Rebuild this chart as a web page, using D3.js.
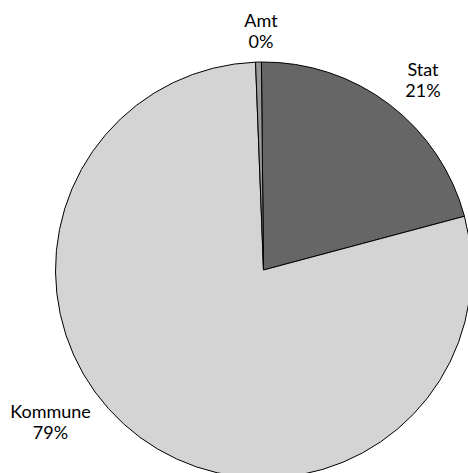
<!DOCTYPE html>
<html>
<head>
<meta charset="utf-8">
<script src="https://cdn.jsdelivr.net/npm/d3@7"></script>
<style>
  body { margin: 0; background: #fff; }
  svg { display: block; }
</style>
</head>
<body>
<div id="chart"></div>
<script>
// data
var categories = ['Stat', 'Kommune', 'Amt'];
var values = [21.0, 78.55, 0.45];
var colors = ['#666666', '#d4d4d4', '#999999'];

var width = 468;
var height = 473;
var radius = 208;
var cx = 263.5, cy = 270;

var svg = d3.select('#chart')
  .append('svg')
  .attr('width', width)
  .attr('height', height);

var g = svg.append('g')
  .attr('transform', 'translate(' + cx + ',' + cy + ')');

var total = d3.sum(values);
var pie = d3.pie()
  .sort(null)
  .startAngle(-0.01)
  .endAngle(2 * Math.PI - 0.01)
  .value(function (d) { return d; });

var arcs = pie(values);

var arc = d3.arc()
  .innerRadius(0)
  .outerRadius(radius);

g.selectAll('path')
  .data(arcs)
  .enter()
  .append('path')
  .attr('d', arc)
  .attr('fill', function (d, i) { return colors[i]; })
  .attr('stroke', '#000')
  .attr('stroke-width', 1)
  .attr('stroke-linejoin', 'miter');

// label positions (absolute) set per category
var labelPos = { 'Stat': [423, 76], 'Kommune': [50.5, 418], 'Amt': [261, 27] };

var labels = svg.selectAll('text.lbl')
  .data(arcs)
  .enter()
  .append('text')
  .attr('class', 'lbl')
  .attr('text-anchor', 'middle')
  .attr('font-family', 'Lato, "Open Sans", sans-serif')
  .attr('font-size', 18)
  .attr('fill', '#000')
  .attr('transform', function (d, i) {
    var p = labelPos[categories[i]];
    return 'translate(' + p[0] + ',' + p[1] + ')';
  });

labels.append('tspan')
  .attr('x', 0)
  .attr('y', 0)
  .text(function (d, i) { return categories[i]; });

labels.append('tspan')
  .attr('x', 0)
  .attr('y', 20.5)
  .text(function (d) { return Math.round(d.value / total * 100) + '%'; });
</script>
</body>
</html>
